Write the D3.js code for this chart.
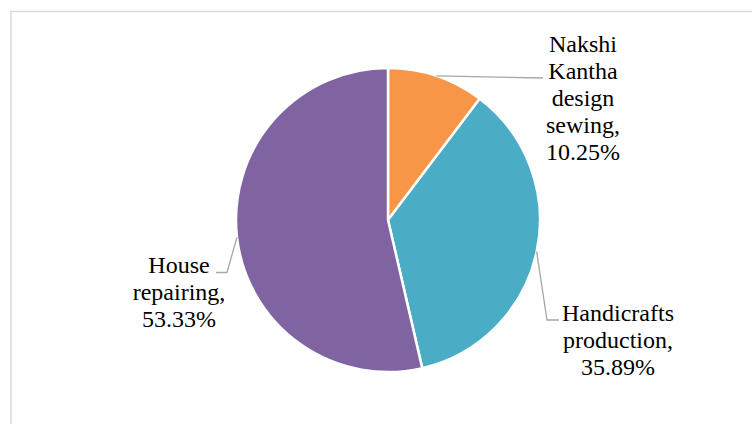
<!DOCTYPE html>
<html>
<head>
<meta charset="utf-8">
<script src="https://cdn.jsdelivr.net/npm/d3@7"></script>
<style>
  html, body { margin: 0; padding: 0; background: #ffffff; }
  svg { display: block; }
</style>
</head>
<body>
<svg id="chart" width="752" height="424"></svg>
<script>
// Share of training by activity
const categories = ["Nakshi Kantha design sewing", "Handicrafts production", "House repairing"];
const shares = [10.25, 35.89, 53.33];
const colors = ["#F79646", "#4BACC6", "#8064A2"];
const labelLines = [
  ["Nakshi", "Kantha", "design", "sewing,", "10.25%"],
  ["Handicrafts", "production,", "35.89%"],
  ["House", "repairing,", "53.33%"]
];

const W = 752, H = 424;
const cx = 388, cy = 220, R = 152;
const lineH = 27;

const svg = d3.select("#chart");

// chart-area frame (only top and left edges fall inside the view)
svg.append("rect")
  .attr("x", 11).attr("y", 11.5)
  .attr("width", W + 20).attr("height", H + 20)
  .attr("fill", "none")
  .attr("stroke", "#d9d9d9")
  .attr("stroke-width", 1.5);

const pie = d3.pie().sort(null).value(d => d);
const arcs = pie(shares);
const arc = d3.arc().innerRadius(0).outerRadius(R);

const g = svg.append("g").attr("transform", `translate(${cx},${cy})`);

g.selectAll("path.slice")
  .data(arcs)
  .join("path")
  .attr("class", "slice")
  .attr("d", arc)
  .attr("fill", (d, i) => colors[i])
  .attr("stroke", "#ffffff")
  .attr("stroke-width", 2.5)
  .attr("stroke-linejoin", "round");

// label placement: text block centre/baseline and leader elbow, per slice
const labelPos = [
  { x: 583, y0: 51.5, elbow: null, end: [543, 78] },
  { x: 618, y0: 320.5, elbow: [547, 320], end: [559, 320] },
  { x: 179, y0: 273, elbow: [227, 272.5], end: [216, 272.5] }
];

const midPoint = d => {
  const a = (d.startAngle + d.endAngle) / 2;
  return [cx + R * Math.sin(a), cy - R * Math.cos(a)];
};

arcs.forEach((d, i) => {
  const p = labelPos[i];
  const start = midPoint(d);
  const pts = [start];
  if (p.elbow) pts.push(p.elbow);
  pts.push(p.end);
  svg.append("path")
    .attr("d", d3.line()(pts))
    .attr("fill", "none")
    .attr("stroke", "#a6a6a6")
    .attr("stroke-width", 1.3);

  const t = svg.append("text")
    .attr("text-anchor", "middle")
    .style("font-family", '"Liberation Serif"')
    .style("font-size", "24px")
    .style("fill", "#000000");
  labelLines[i].forEach((ln, k) => {
    t.append("tspan")
      .attr("x", p.x)
      .attr("y", p.y0 + k * lineH)
      .text(ln);
  });
});
</script>
</body>
</html>
